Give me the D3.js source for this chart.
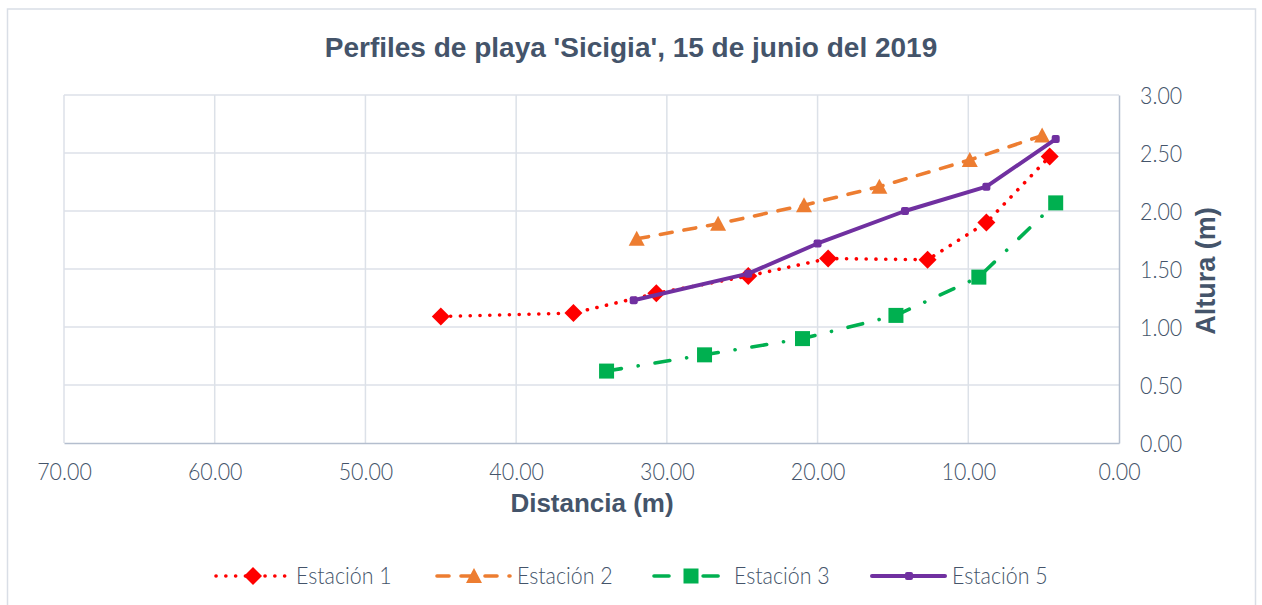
<!DOCTYPE html>
<html><head><meta charset="utf-8">
<script src="https://cdn.jsdelivr.net/npm/d3@7"></script>
<style>
html,body{margin:0;padding:0;background:#fff;}
svg{display:block;}
</style></head>
<body>
<script>
// ---- data ----
const title = "Perfiles de playa 'Sicigia', 15 de junio del 2019";
const xTitle = "Distancia (m)";
const yTitle = "Altura (m)";
const xTicks = [70, 60, 50, 40, 30, 20, 10, 0];
const yTicks = [0, 0.5, 1, 1.5, 2, 2.5, 3];
const seriesNames = ["Estación 1", "Estación 2", "Estación 3", "Estación 5"];
const e1x = [45.0, 36.2, 30.7, 24.6, 19.3, 12.7, 8.8, 4.6];
const e1y = [1.09, 1.12, 1.29, 1.44, 1.59, 1.58, 1.90, 2.47];
const e2x = [32.0, 26.6, 20.9, 15.9, 9.9, 5.1];
const e2y = [1.76, 1.89, 2.05, 2.21, 2.44, 2.65];
const e3x = [34.0, 27.5, 21.0, 14.8, 9.3, 4.2];
const e3y = [0.62, 0.76, 0.90, 1.10, 1.43, 2.07];
const e5x = [32.2, 24.6, 20.0, 14.2, 8.8, 4.2];
const e5y = [1.23, 1.46, 1.72, 2.00, 2.21, 2.62];

// ---- styles ----
const W = 1262, H = 605;
const txtColor = "#44546A";
const gridColor = "#DCE1E8";
const axisColor = "#B4BECE";
const styles = [
  {color:"#FF0000", dash:"0.1,9.7", width:3.6, marker:"diamond"},
  {color:"#ED7D31", dash:"12,12", width:3.6, marker:"triangle"},
  {color:"#00B050", dash:"15,17,0.1,17", width:3.6, marker:"square"},
  {color:"#7030A0", dash:null, width:4, marker:"small"}
];
const seriesData = [[e1x,e1y],[e2x,e2y],[e3x,e3y],[e5x,e5y]];

const svg = d3.select("body").append("svg").attr("width", W).attr("height", H);
svg.append("rect").attr("x",7.5).attr("y",9).attr("width",1248).attr("height",620)
  .attr("fill","#fff").attr("stroke","#D9DEE6").attr("stroke-width",1.5);

const x = d3.scaleLinear().domain([70,0]).range([64,1119]);
const y = d3.scaleLinear().domain([0,3]).range([443,95]);

function txt(parent, tx, ty, s, opts){
  return parent.append("text")
    .attr("transform", `translate(${tx},${ty})` + (opts.rot ? ` rotate(${opts.rot})` : "") + ` scale(${opts.sx||1},${opts.sy||1})`)
    .attr("text-anchor", opts.anchor || "start")
    .attr("font-family", opts.family || "Lato, 'Open Sans', sans-serif")
    .attr("font-weight", opts.weight || 300)
    .attr("font-size", opts.size)
    .attr("fill", txtColor)
    .text(s);
}

// grid
const grid = svg.append("g");
grid.selectAll("line.v").data(xTicks.filter(d=>d!==0)).join("line")
  .attr("x1",d=>x(d)).attr("x2",d=>x(d)).attr("y1",y(3)).attr("y2",y(0))
  .attr("stroke",gridColor).attr("stroke-width",1.5);
grid.selectAll("line.h").data(yTicks.filter(d=>d!==0)).join("line")
  .attr("x1",x(70)).attr("x2",x(0)).attr("y1",d=>y(d)).attr("y2",d=>y(d))
  .attr("stroke",gridColor).attr("stroke-width",1.5);

// axes via d3
const xAxis = svg.append("g").attr("transform",`translate(0,${y(0)})`)
  .call(d3.axisBottom(x).tickValues(xTicks).tickSize(0).tickFormat(d=>d3.format(".2f")(d)));
xAxis.select(".domain").attr("stroke",axisColor).attr("stroke-width",1.5);
xAxis.selectAll(".tick text").remove();
xAxis.selectAll(".tick").each(function(d){
  txt(d3.select(this), 0, 37, d3.format(".2f")(d), {anchor:"middle", size:23, sx:0.93});
});

const yAxis = svg.append("g").attr("transform",`translate(${x(0)},0)`)
  .call(d3.axisRight(y).tickValues(yTicks).tickSize(0).tickFormat(d=>d3.format(".2f")(d)));
yAxis.select(".domain").attr("stroke",axisColor).attr("stroke-width",1.5);
yAxis.selectAll(".tick text").remove();
yAxis.selectAll(".tick").each(function(d){
  txt(d3.select(this), 21, 8.5, d3.format(".2f")(d), {anchor:"start", size:23, sx:0.93});
});

// titles
const boldFam = "'Liberation Sans', Arial, sans-serif";
txt(svg, 631, 56.5, title, {anchor:"middle", size:28, weight:700, family:boldFam});
txt(svg, 592, 512, xTitle, {anchor:"middle", size:26, weight:700, family:boldFam});
txt(svg, 1215, 271, yTitle, {anchor:"middle", size:27, rot:-90, weight:700, family:boldFam});

// markers
function drawMarker(g, kind, cx, cy, color){
  if(kind==="diamond"){
    g.append("path").attr("d",`M${cx},${cy-9}L${cx+9},${cy}L${cx},${cy+9}L${cx-9},${cy}Z`).attr("fill",color);
  } else if(kind==="triangle"){
    g.append("path").attr("d",`M${cx},${cy-8}L${cx+8},${cy+7}L${cx-8},${cy+7}Z`).attr("fill",color);
  } else if(kind==="square"){
    g.append("rect").attr("x",cx-7.5).attr("y",cy-7.5).attr("width",15).attr("height",15).attr("fill",color);
  } else {
    g.append("rect").attr("x",cx-4).attr("y",cy-4).attr("width",8).attr("height",8).attr("rx",2).attr("fill",color);
  }
}

const line = d3.line().x(d=>x(d[0])).y(d=>y(d[1]));
seriesData.forEach((sd,i)=>{
  const st = styles[i];
  const pts = sd[0].map((v,j)=>[v, sd[1][j]]);
  const g = svg.append("g");
  g.append("path").datum(pts).attr("d",line).attr("fill","none")
    .attr("stroke",st.color).attr("stroke-width",st.width)
    .attr("stroke-linecap","round").attr("stroke-linejoin","round")
    .attr("stroke-dasharray",st.dash);
  pts.forEach(p=>drawMarker(g, st.marker, x(p[0]), y(p[1]), st.color));
});

// legend
const legX = [216, 437, 654, 872];
const legY = 576;
seriesNames.forEach((name,i)=>{
  const st = styles[i];
  const g = svg.append("g");
  g.append("line").attr("x1",legX[i]).attr("x2",legX[i]+73).attr("y1",legY).attr("y2",legY)
    .attr("stroke",st.color).attr("stroke-width",st.width)
    .attr("stroke-linecap","round").attr("stroke-dasharray",st.dash);
  drawMarker(g, st.marker, legX[i]+37, legY, st.color);
  txt(g, legX[i]+80, legY+8, name, {anchor:"start", size:23, sx:0.93});
});
</script>
</body></html>
